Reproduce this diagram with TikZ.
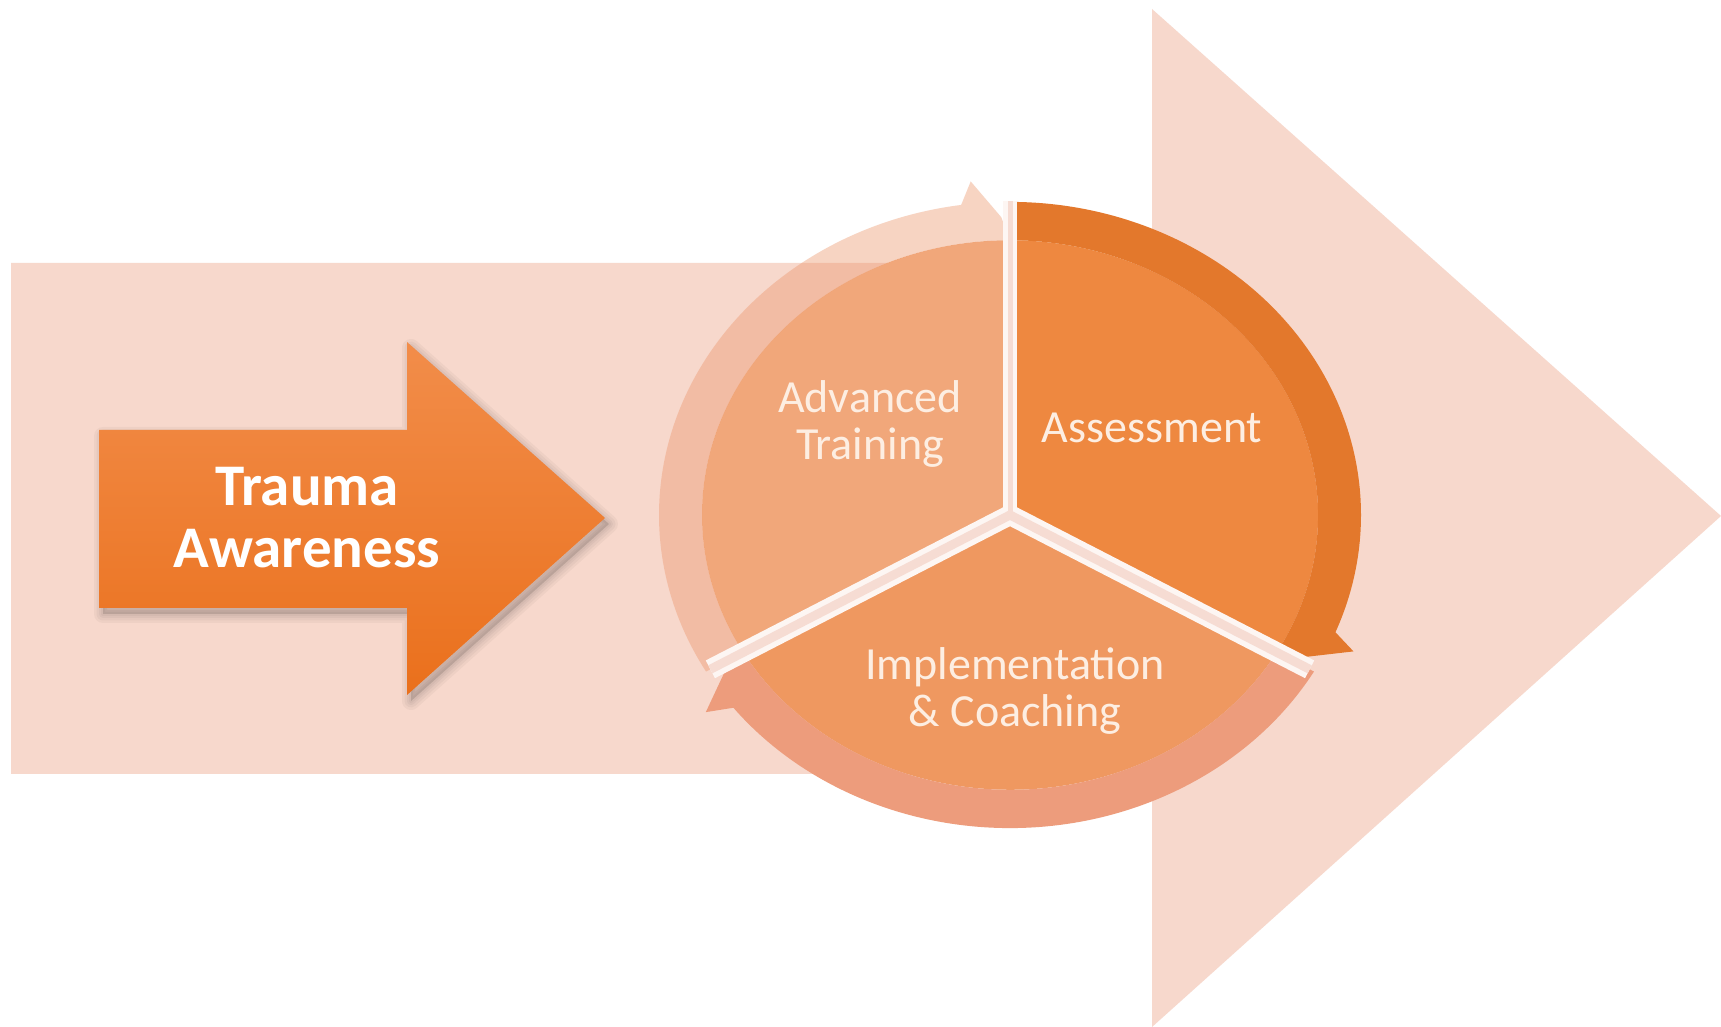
\documentclass[tikz,border=0pt]{standalone}
\usepackage{fontspec}
\setmainfont{Carlito}
\definecolor{bigpink}{HTML}{F7D8CC}
\definecolor{traumatop}{HTML}{F28D4A}
\definecolor{traumabot}{HTML}{EA701C}
\definecolor{advslice}{HTML}{F1A77A}
\definecolor{advband}{HTML}{EC9468}
\definecolor{assslice}{HTML}{EE8840}
\definecolor{assband}{HTML}{E3782C}
\definecolor{impslice}{HTML}{EF9860}
\definecolor{impband}{HTML}{ED9C7C}
\definecolor{labeltext}{HTML}{FDEEE2}
\definecolor{gapwhite}{HTML}{FDF6F3}
\definecolor{gappink}{HTML}{F6DCD3}

% ring band of one cycle segment, ending with its arrow head at angle #1
\newcommand\cycband[2]{%
  \fill[#2] (#1+120:308) -- (#1+120:351)
    arc[start angle=#1+120, end angle=#1+8, radius=351]
    -- (#1+6:376) -- (#1+1.5:334) -- (#1:308)
    arc[start angle=#1, end angle=#1+120, radius=308] -- cycle;}
% pie slice between angles #1 and #2
\newcommand\cycslice[3]{%
  \fill[#3] (0,0) -- (#1:308) arc[start angle=#1, end angle=#2, radius=308] -- cycle;}
% outline of the small arrow
\newcommand\smallarrow{(99,597) -- (407,597) -- (407,685) -- (605,509)
    -- (407,332) -- (407,419) -- (99,419) -- cycle}

\begin{document}
\begin{tikzpicture}[x=1pt,y=1pt,
  cyclabel/.style={text=labeltext, align=center, font=\fontsize{46}{47}\selectfont, inner sep=0pt},
  traumalabel/.style={text=white, align=center, font=\fontsize{59}{62}\selectfont\bfseries, inner sep=0pt},
  gapline/.style={draw=gapwhite, line width=#1},
  gapcore/.style={draw=gappink, line width=#1}]
\useasboundingbox (0,0) rectangle (1721,1027);
\fill[white] (0,0) rectangle (1721,1027);

% large background arrow
\fill[bigpink] (11,764) -- (1152,764) -- (1152,1018) -- (1721,511)
  -- (1152,0) -- (1152,253) -- (11,253) -- cycle;

% soft shadow of the small arrow
\begin{scope}[shift={(4,-6)}]
  \foreach \w in {18,13,8,4}{
    \draw[black, opacity=0.035, line width=\w, line join=round] \smallarrow;}
  \fill[black, opacity=0.12] \smallarrow;
\end{scope}
% small arrow
\shade[top color=traumatop, bottom color=traumabot] \smallarrow;
\node[traumalabel] (trauma) at (307,509) {Trauma\\Awareness};

% cycle of three segments
\begin{scope}[shift={(1010,512)}, yscale=0.892]
  \cycslice{90}{210}{advslice}
  \cycslice{-30}{90}{assslice}
  \cycslice{210}{330}{impslice}
  \cycband{90}{advband, opacity=0.4}
  \cycband{-30}{assband}
  \cycband{210}{impband}
  \coordinate (hub) at (0,0);
  \coordinate (cuttop) at (90:352);
  \coordinate (cutright) at (-30:346);
  \coordinate (cutleft) at (210:346);
  \draw[gapline=14] (hub) -- (cuttop);
  \draw[gapline=20] (hub) -- (cutright);
  \draw[gapline=20] (hub) -- (cutleft);
  \draw[gapcore=5] (hub) -- (cuttop);
  \draw[gapcore=9] (hub) -- (cutright);
  \draw[gapcore=9] (hub) -- (cutleft);
\end{scope}

\node[cyclabel] (advanced) at (870,603) {Advanced\\Training};
\node[cyclabel] (assessment) at (1152,599) {Assessment};
\node[cyclabel] (implementation) at (1015,336) {Implementation\\\& Coaching};
\end{tikzpicture}
\end{document}
